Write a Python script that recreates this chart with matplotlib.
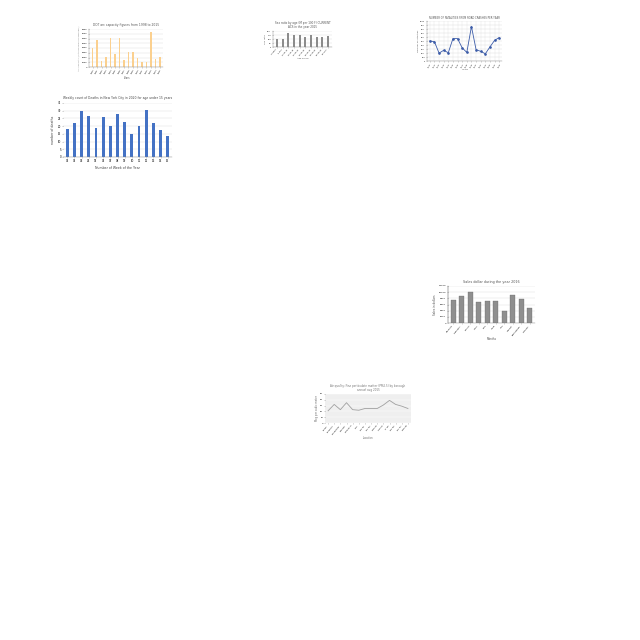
import matplotlib
matplotlib.use("Agg")
import matplotlib.pyplot as plt

# chart 1 - orange bars
years_1 = [str(y) for y in range(2000, 2016)]
values_1 = [4000, 5600, 1350, 2100, 6150, 2750, 6100, 1400, 3200, 3200, 1800, 1050, 1050, 7450, 1600, 2100]

# chart 2 - small gray bars
groups_2 = ["Under 5", "5 to 9", "10 to 14", "15 to 19", "20 to 24", "25 to 34", "35 to 44", "45 to 54", "55 to 64", "65 over"]
values_2 = [104, 96, 175, 150, 150, 130, 146, 130, 125, 138]

# chart 3 - blue line
years_3 = [str(y) for y in range(2000, 2016)]
values_3 = [500, 483, 198, 267, 207, 560, 560, 328, 215, 862, 284, 241, 181, 353, 517, 586]

# chart 4 - weekly deaths
weeks_4 = ["%02d" % w for w in range(1, 16)]
deaths_4 = [18, 22, 29.5, 26.7, 18.8, 25.8, 19.9, 27.8, 22.8, 14.9, 19.9, 30.6, 21.9, 17.7, 13.8]

# chart 5 - sales by month
months_5 = ["January", "February", "March", "April", "May", "June", "July", "August", "September", "October"]
sales_5 = [7300, 8700, 10100, 6800, 7100, 7200, 3800, 9200, 7900, 4900]

# chart 6 - gray line
labels_6 = ["Bronx", "Brooklyn", "Manhattan", "Queens", "Staten Is", "NYC", "BX 01", "BK 02", "MN 03", "QN 04", "SI 05", "BX 06", "BK 07", "MN 08"]
values_6 = [21, 32, 23, 35, 23, 22, 25, 25, 25, 31, 39, 32, 29, 25]

W = 640.0
fig = plt.figure(figsize=(6.4, 6.4), dpi=100)
fig.patch.set_facecolor("white")


def box(x0, y0, x1, y1):
    # pixel box -> figure fraction
    return [x0 / W, 1 - y1 / W, (x1 - x0) / W, (y1 - y0) / W]


def small_style(ax, grid_color="#d9d9d9", fs=1.6):
    ax.tick_params(labelsize=fs, length=0.6, width=0.2, pad=0.8)
    for s in ["top", "right"]:
        ax.spines[s].set_visible(False)
    ax.spines["left"].set_linewidth(0.3)
    ax.spines["bottom"].set_linewidth(0.3)
    ax.spines["left"].set_color("#888888")
    ax.spines["bottom"].set_color("#888888")
    ax.yaxis.grid(True, color=grid_color, linewidth=0.3)
    ax.set_axisbelow(True)


# chart 1
ax1 = fig.add_axes(box(89, 29, 163, 67))
x = range(len(years_1))
ax1.bar(x, values_1, width=0.35, color="#fbd08f")
ax1.set_xticks(list(x))
ax1.set_xticklabels(years_1, rotation=60)
ax1.set_ylim(0, 8000)
ax1.set_xlim(-0.8, len(years_1) - 0.3)
small_style(ax1)
ax1.set_title("DOT arc capacity figures from 1998 to 2015", fontsize=2.2, color="#555555", pad=2)
ax1.set_xlabel("Years", fontsize=1.8, color="#555555", labelpad=1)
ax1.set_ylabel("Arc capacity (in thousands of Passenger)", fontsize=1.6, color="#888888", labelpad=1)

# chart 2
ax2 = fig.add_axes(box(273, 31, 332, 47))
x = range(len(groups_2))
ax2.bar(x, values_2, width=0.35, color="#8c8c8c")
ax2.set_xticks(list(x))
ax2.set_xticklabels(groups_2, rotation=50, ha="right")
ax2.set_ylim(0, 200)
ax2.set_xlim(-0.7, len(groups_2) - 0.3)
small_style(ax2, fs=1.4)
ax2.set_title("Sex ratio by age (M per 100 F) CURRENT\nACS in the year 2015", fontsize=2.0, color="#555555", pad=2)
ax2.set_xlabel("Age group", fontsize=1.6, color="#555555", labelpad=1)
ax2.set_ylabel("Sex ratio", fontsize=1.6, color="#555555", labelpad=1)

# chart 3
ax3 = fig.add_axes(box(427, 21, 502, 61))
x = range(len(years_3))
ax3.plot(list(x), values_3, color="#3b5ba8", linewidth=0.6, marker="o", markersize=0.9)
ax3.set_xticks(list(x))
ax3.set_xticklabels(years_3, rotation=60)
ax3.set_ylim(0, 1000)
ax3.set_yticks(range(0, 1001, 100))
ax3.set_xlim(-0.6, len(years_3) - 0.4)
small_style(ax3, fs=1.4)
ax3.xaxis.grid(True, color="#e3e3e3", linewidth=0.3)
ax3.set_title("NUMBER OF FATALITIES FROM ROAD CRASHES PER YEAR", fontsize=1.8, color="#555555", pad=1.5)
ax3.set_xlabel("Years", fontsize=1.6, color="#555555", labelpad=1)
ax3.set_ylabel("Number of fatalities", fontsize=1.6, color="#555555", labelpad=1)

# chart 4
ax4 = fig.add_axes(box(63, 103, 172, 157))
x = range(len(weeks_4))
ax4.bar(x, deaths_4, width=0.4, color="#4472c4")
ax4.set_xticks(list(x))
ax4.set_xticklabels(weeks_4)
ax4.set_ylim(0, 35)
ax4.set_yticks(range(0, 36, 5))
ax4.set_xlim(-0.6, len(weeks_4) - 0.4)
small_style(ax4, fs=1.9)
ax4.spines["left"].set_visible(False)
ax4.set_title("Weekly count of Deaths in New York City in 2020 for age under 15 years", fontsize=2.2, color="#444444", pad=3)
ax4.set_xlabel("Number of Week of the Year", fontsize=2.3, color="#444444", labelpad=2)
ax4.set_ylabel("number of deaths", fontsize=2.3, color="#444444", labelpad=2)

# chart 5
ax5 = fig.add_axes(box(448, 286, 535, 323))
x = range(len(months_5))
ax5.bar(x, sales_5, width=0.6, color="#8f8f8f", edgecolor="#5a5a5a", linewidth=0.2)
ax5.set_xticks(list(x))
ax5.set_xticklabels(months_5, rotation=50, ha="right")
ax5.set_ylim(0, 12000)
ax5.set_yticks(range(0, 12001, 2000))
ax5.set_xlim(-0.6, len(months_5) - 0.4)
small_style(ax5, fs=1.7)
ax5.spines["left"].set_color("#333333")
ax5.set_title("Sales dollar during the year 2016", fontsize=2.4, color="#555555", pad=2)
ax5.set_xlabel("Months", fontsize=2.0, color="#555555", labelpad=1)
ax5.set_ylabel("Sales in dollars", fontsize=2.0, color="#555555", labelpad=1)

# chart 6
ax6 = fig.add_axes(box(325, 394, 411, 423))
x = range(len(labels_6))
ax6.set_facecolor("#efefef")
ax6.plot(list(x), values_6, color="#a0a0a0", linewidth=0.6)
ax6.set_xticks(list(x))
ax6.set_xticklabels(labels_6, rotation=50, ha="right")
ax6.set_ylim(0, 50)
ax6.set_yticks(range(0, 51, 10))
ax6.set_xlim(-0.5, len(labels_6) - 0.5)
small_style(ax6, grid_color="white", fs=1.6)
for s in ["left", "bottom"]:
    ax6.spines[s].set_visible(False)
ax6.set_title("Air quality: Fine particulate matter (PM2.5) by borough\nannual avg 2015", fontsize=2.0, color="#777777", pad=2)
ax6.set_xlabel("Location", fontsize=1.8, color="#666666", labelpad=1)
ax6.set_ylabel("Mcg per cubic meter", fontsize=1.8, color="#666666", labelpad=1)

fig.savefig("out.png", dpi=100, facecolor="white")
